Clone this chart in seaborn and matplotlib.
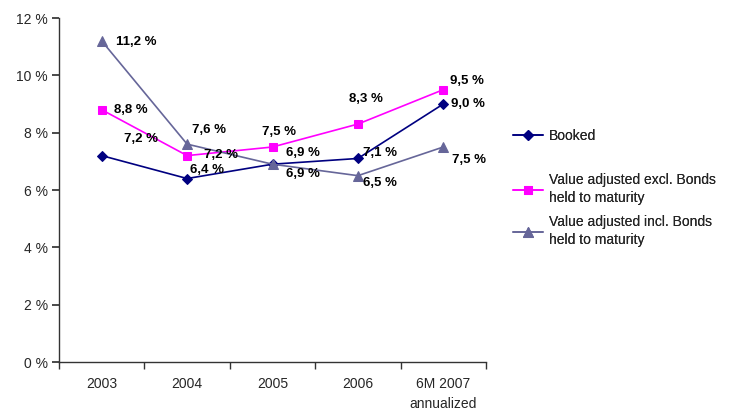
import matplotlib
matplotlib.use("Agg")
import matplotlib.pyplot as plt
import seaborn as sns
import pandas as pd
from matplotlib.ticker import FixedLocator

categories = ["2003", "2004", "2005", "2006", "6M 2007\nannualized"]
booked = [7.2, 6.4, 6.9, 7.1, 9.0]
excl = [8.8, 7.2, 7.5, 8.3, 9.5]
incl = [11.2, 7.6, 6.9, 6.5, 7.5]
series_names = ["Booked",
                "Value adjusted excl. Bonds\nheld to maturity",
                "Value adjusted incl. Bonds\nheld to maturity"]
y_ticks = [0, 2, 4, 6, 8, 10, 12]

# label offsets in pixels (dx, dy) per series
offsets = {
    series_names[0]: [(22, 17), (3, 9), (13, 11), (5, 5), (8, 0)],
    series_names[1]: [(12, 0), (17, 1), (-11, 15), (-9, 25), (7, 9)],
    series_names[2]: [(14, -1), (5, 14), (13, -10), (5, -7), (9, -13)],
}
colors = ["#000080", "#FF00FF", "#666699"]
markers = ["D", "s", "^"]
msizes = [5.5, 6.0, 7.0]
legend_y_px = [136, 189, 231]

sns.set_theme(style="white")
plt.rcParams["font.family"] = ["Liberation Sans", "DejaVu Sans"]

fig = plt.figure(figsize=(7.34, 4.13), dpi=100)
ax = fig.add_axes([59/734, 1-362/413, (486-59)/734, (362-18)/413])

rows = []
for name, vals in zip(series_names, [booked, excl, incl]):
    for i, (c, v) in enumerate(zip(categories, vals)):
        rows.append({"pos": i, "cat": c, "value": v, "series": name})
df = pd.DataFrame(rows)

for name, col, mk, ms in zip(series_names, colors, markers, msizes):
    sub = df[df["series"] == name]
    sns.lineplot(data=sub, x="pos", y="value", ax=ax, color=col, marker=mk,
                 markersize=ms, markeredgecolor=col, linewidth=1.2, label=name,
                 legend=False)
    for (_, r), (dx, dy) in zip(sub.iterrows(), offsets[name]):
        ax.annotate(f"{r['value']:.1f} %".replace(".", ","), (r["pos"], r["value"]),
                    xytext=(dx, dy), textcoords="offset pixels", ha="left",
                    va="center", fontsize=9.5, fontweight="bold", color="black")

ax.set_xlim(-0.5, len(categories) - 0.5)
ax.set_ylim(0, 12)
ax.set_yticks(y_ticks)
ax.set_yticklabels([f"{t} %" for t in y_ticks], fontsize=10)
ax.set_xticks(range(len(categories)))
ax.set_xticklabels(categories, fontsize=10, linespacing=1.5)
ax.xaxis.set_minor_locator(FixedLocator([i - 0.5 for i in range(len(categories) + 1)]))
ax.tick_params(axis="x", which="major", length=0, pad=11)
ax.tick_params(axis="x", which="minor", length=5, direction="out", color="#333333", bottom=True)
ax.tick_params(axis="y", length=5, direction="out", color="#333333", left=True, pad=3)
ax.set_xlabel("")
ax.set_ylabel("")
for s in ["top", "right"]:
    ax.spines[s].set_visible(False)
for s in ["left", "bottom"]:
    ax.spines[s].set_color("#333333")
    ax.spines[s].set_linewidth(1.0)

handles, labels = ax.get_legend_handles_labels()
for h, l, ypx in zip(handles, labels, legend_y_px):
    leg = fig.legend([h], [l], loc="center left", bbox_to_anchor=(507/734, 1-ypx/413),
                     frameon=False, fontsize=10, handlelength=2.2, handletextpad=0.4,
                     borderaxespad=0)
    for t in leg.get_texts():
        t.set_linespacing(1.35)
    fig.add_artist(leg)

fig.savefig("out.png", dpi=100)
